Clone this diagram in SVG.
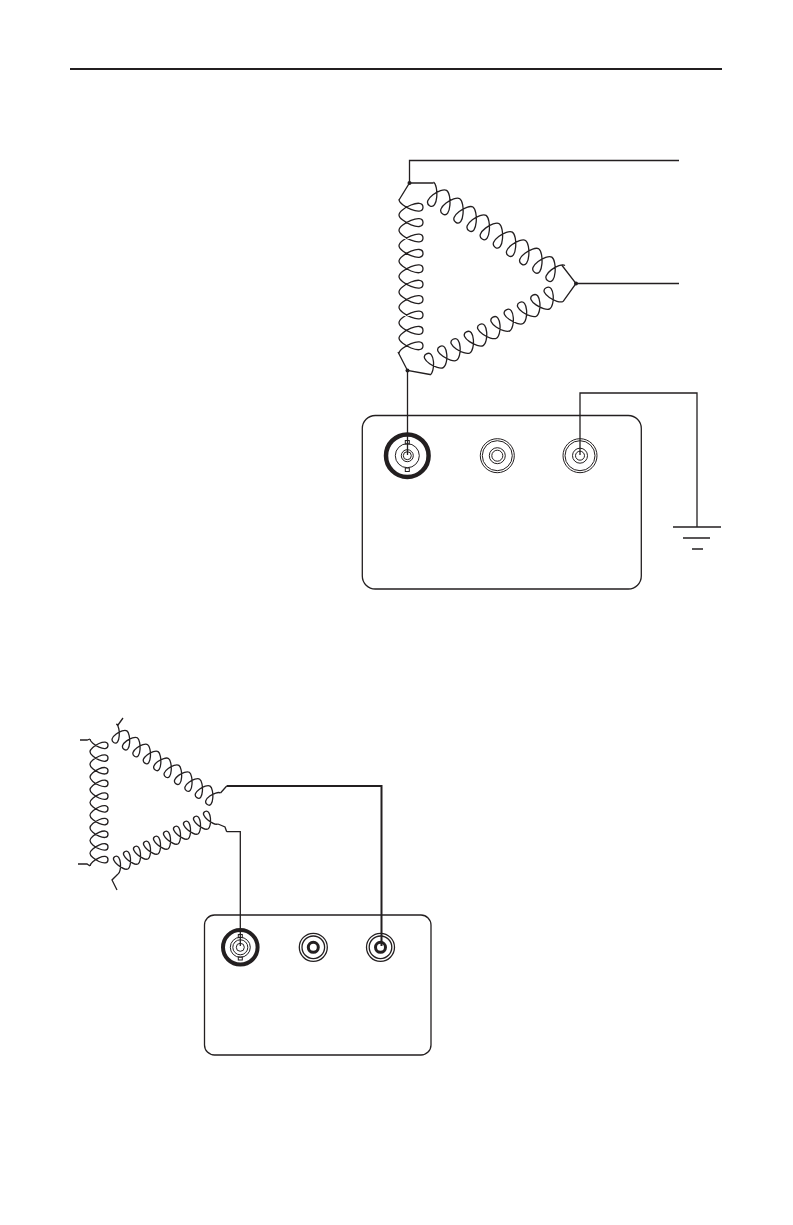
<svg xmlns="http://www.w3.org/2000/svg" width="793" height="1225" viewBox="0 0 793 1225">
<style>
.w{fill:none;stroke:#231f20;stroke-width:1.3}
.t{fill:none;stroke:#231f20;stroke-width:2}
.c{fill:none;stroke:#231f20;stroke-width:1.3;vector-effect:non-scaling-stroke}
.d{fill:#231f20;stroke:none}
.r{fill:none;stroke:#231f20;stroke-width:1}
.j{fill:none;stroke:#231f20;stroke-width:1.3}
.h{fill:none;stroke:#231f20;stroke-width:3}
</style>
<defs>
<path id="coil" class="c" d="M0 0c4 0 11.500 10 5 10c-6.500 0 1-10 5-10c4 0 11.500 10 5 10c-6.500 0 1-10 5-10c4 0 11.500 10 5 10c-6.500 0 1-10 5-10c4 0 11.500 10 5 10c-6.500 0 1-10 5-10c4 0 11.500 10 5 10c-6.500 0 1-10 5-10c4 0 11.500 10 5 10c-6.500 0 1-10 5-10c4 0 11.500 10 5 10c-6.500 0 1-10 5-10c4 0 11.500 10 5 10c-6.500 0 1-10 5-10c4 0 11.500 10 5 10c-6.500 0 1-10 5-10c4 0 11.500 10 5 10c-6.500 0 1-10 5-10"/>
</defs>
<rect width="793" height="1225" fill="#fff"/>
<path id="rule" d="M70 69H722" class="t"/>
<g id="delta-1">
<use href="#coil" transform="matrix(0 1.54 2.4 0 399 199.5)"/>
<use href="#coil" transform="matrix(1.315 .835 -1.05 1.95 433.500 182)"/>
<use href="#coil" transform="matrix(1.33 -.735 -1.02 -1.74 430 375)"/>
<path class="w" d="M399 200L409.500 183H433.500M561.700 265L576 283.500L563 301.700M398 352L407.500 370.500L430 374.500"/>
<circle class="d" cx="409.500" cy="183" r="2"/><circle class="d" cx="576" cy="283.500" r="2"/><circle class="d" cx="407.500" cy="370.500" r="2"/>
</g>
<g id="panel-1">
<rect class="w" x="362.300" y="415.500" width="279" height="173.500" rx="13"/>
<circle cx="407.300" cy="455.700" r="21.300" fill="none" stroke="#231f20" stroke-width="4.500"/>
<circle class="r" cx="407.300" cy="455.700" r="12"/><circle class="r" cx="407.300" cy="455.700" r="6"/><circle class="r" cx="407.300" cy="455.700" r="4"/>
<rect class="r" x="405.300" y="440.500" width="4" height="3.500"/><rect class="r" x="405.300" y="468" width="4" height="3.500"/>
<circle class="r" cx="497.300" cy="455.700" r="17"/><circle class="r" cx="497.300" cy="455.700" r="15"/><circle class="r" cx="497.300" cy="455.700" r="8"/><circle class="r" cx="497.300" cy="455.700" r="5.500"/>
<circle class="r" cx="580" cy="455.700" r="17"/><circle class="r" cx="580" cy="455.700" r="15"/><circle class="r" cx="580" cy="455.700" r="7.500"/><circle class="r" cx="580" cy="455.700" r="4.500"/>
</g>
<g id="ground">
<path class="w" d="M673 527H721M683 538H710M692 549H703"/>
</g>
<g id="delta-2">
<use href="#coil" transform="matrix(0 1.27 1.8 0 90 739)"/>
<use href="#coil" transform="matrix(1.04 .69 -.8 1.5 116.500 724)"/>
<use href="#coil" transform="matrix(1 -.5 -.8 -1.5 118 874)"/>
<path class="w" d="M80 740H87L90 739M78 864H87L90 866M123 718L118 725L116.500 724M117 890L112 880L118 874M220.500 793L226.700 786M218 824L225 827L226.700 831.700"/>
</g>
<g id="panel-2">
<rect class="w" x="204.500" y="915" width="226.500" height="140" rx="10"/>
<circle cx="240.300" cy="947.300" r="17.300" fill="none" stroke="#231f20" stroke-width="4"/>
<circle class="r" cx="240.300" cy="947.300" r="10"/><circle class="r" cx="240.300" cy="947.300" r="7.500"/><circle class="r" cx="240.300" cy="947.300" r="4"/>
<rect class="r" x="238.300" y="934.500" width="4" height="3"/><rect class="r" x="238.300" y="957" width="4" height="3"/>
<circle class="j" cx="313.300" cy="947.300" r="14"/><circle class="j" cx="313.300" cy="947.300" r="11.300"/><circle class="h" cx="313.300" cy="947.300" r="5"/>
<circle class="j" cx="380.500" cy="947.300" r="14"/><circle class="j" cx="380.500" cy="947.300" r="11.300"/><circle class="h" cx="380.500" cy="947.300" r="5"/>
</g>
<g id="connectors">
<path class="w" d="M409.500 183V160.500H679"/>
<path class="w" d="M576 283.500H679"/>
<path class="w" d="M407.500 370.500V455"/>
<path class="w" d="M580 455V393H697V527"/>
<path class="t" d="M226.700 786H381.500V946"/>
<path class="w" d="M226.700 831.700H240.300V946"/>
</g>
</svg>
